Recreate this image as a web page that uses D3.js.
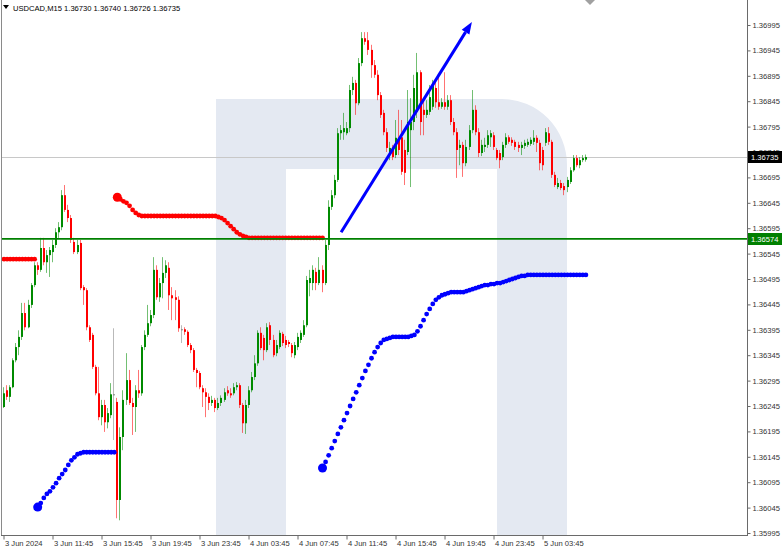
<!DOCTYPE html>
<html><head><meta charset="utf-8">
<script src="https://cdn.jsdelivr.net/npm/d3@7/dist/d3.min.js"></script>
<style>html,body{margin:0;padding:0;background:#fff;overflow:hidden;} svg{display:block;}</style>
</head><body><svg id="c" width="782" height="550"></svg>
<script>
// ---------------- DATA ----------------
const symbolTitle = "USDCAD,M15";
const lastQuote = [1.36730, 1.36740, 1.36726, 1.36735];   // O H L C of the last bar
const bidPrice = 1.36735;
const levelPrice = 1.36574;

const opens = [1.36243,1.36276,1.36263,1.36282,1.36335,1.36361,1.36381,1.36428,1.36400,1.36444,1.36483,1.36522,1.36513,1.36556,1.36528,1.36542,1.36548,1.36562,1.36587,1.36597,1.36660,1.36631,1.36615,1.36568,1.36548,1.36566,1.36479,1.36473,1.36400,1.36385,1.36322,1.36270,1.36223,1.36247,1.36213,1.36227,1.36268,1.36253,1.36060,1.36184,1.36257,1.36296,1.36251,1.36243,1.36276,1.36270,1.36361,1.36385,1.36408,1.36424,1.36513,1.36459,1.36487,1.36507,1.36517,1.36463,1.36459,1.36454,1.36396,1.36396,1.36391,1.36365,1.36355,1.36316,1.36310,1.36280,1.36272,1.36263,1.36251,1.36257,1.36241,1.36251,1.36257,1.36276,1.36270,1.36270,1.36282,1.36286,1.36247,1.36211,1.36247,1.36276,1.36302,1.36329,1.36389,1.36379,1.36355,1.36404,1.36375,1.36349,1.36361,1.36387,1.36375,1.36371,1.36365,1.36345,1.36361,1.36375,1.36385,1.36404,1.36487,1.36487,1.36509,1.36487,1.36513,1.36487,1.36562,1.36637,1.36660,1.36690,1.36782,1.36784,1.36782,1.36792,1.36867,1.36881,1.36841,1.36920,1.36969,1.36965,1.36946,1.36916,1.36897,1.36857,1.36822,1.36784,1.36739,1.36753,1.36739,1.36773,1.36774,1.36749,1.36745,1.36788,1.36804,1.36824,1.36902,1.36828,1.36818,1.36824,1.36834,1.36871,1.36843,1.36834,1.36843,1.36834,1.36847,1.36804,1.36784,1.36753,1.36759,1.36723,1.36755,1.36788,1.36828,1.36784,1.36743,1.36755,1.36759,1.36774,1.36778,1.36749,1.36743,1.36735,1.36759,1.36774,1.36769,1.36765,1.36759,1.36753,1.36757,1.36759,1.36761,1.36765,1.36773,1.36763,1.36749,1.36763,1.36782,1.36765,1.36700,1.36676,1.36684,1.36678,1.36676,1.36686,1.36709,1.36733,1.36719,1.36729,1.36730];
const highs = [1.36282,1.36286,1.36286,1.36339,1.36369,1.36394,1.36448,1.36448,1.36454,1.36487,1.36528,1.36528,1.36576,1.36576,1.36552,1.36558,1.36572,1.36595,1.36607,1.36670,1.36680,1.36641,1.36621,1.36576,1.36572,1.36572,1.36483,1.36477,1.36404,1.36389,1.36326,1.36322,1.36257,1.36257,1.36241,1.36290,1.36398,1.36261,1.36203,1.36276,1.36349,1.36316,1.36261,1.36286,1.36316,1.36365,1.36394,1.36444,1.36434,1.36538,1.36522,1.36497,1.36538,1.36532,1.36528,1.36479,1.36473,1.36461,1.36404,1.36400,1.36394,1.36369,1.36359,1.36320,1.36314,1.36286,1.36280,1.36270,1.36265,1.36261,1.36261,1.36266,1.36280,1.36284,1.36280,1.36290,1.36292,1.36290,1.36251,1.36257,1.36284,1.36312,1.36345,1.36394,1.36400,1.36385,1.36408,1.36410,1.36385,1.36375,1.36394,1.36391,1.36383,1.36375,1.36369,1.36371,1.36389,1.36394,1.36414,1.36501,1.36513,1.36522,1.36517,1.36538,1.36522,1.36572,1.36650,1.36670,1.36700,1.36792,1.36798,1.36822,1.36804,1.36877,1.36893,1.36887,1.36930,1.36981,1.36981,1.36981,1.36956,1.36926,1.36906,1.36863,1.36828,1.36792,1.36765,1.36759,1.36808,1.36828,1.36808,1.36769,1.36867,1.36851,1.36897,1.36940,1.36906,1.36847,1.36847,1.36877,1.36887,1.36883,1.36897,1.36851,1.36902,1.36857,1.36857,1.36812,1.36792,1.36769,1.36765,1.36769,1.36798,1.36867,1.36837,1.36792,1.36769,1.36773,1.36788,1.36788,1.36784,1.36753,1.36749,1.36765,1.36782,1.36778,1.36774,1.36769,1.36765,1.36765,1.36769,1.36771,1.36774,1.36788,1.36778,1.36769,1.36755,1.36792,1.36794,1.36769,1.36706,1.36694,1.36690,1.36684,1.36696,1.36715,1.36739,1.36739,1.36735,1.36739,1.36740];
const lows = [1.36241,1.36257,1.36253,1.36280,1.36331,1.36345,1.36375,1.36394,1.36398,1.36438,1.36479,1.36503,1.36509,1.36522,1.36507,1.36499,1.36528,1.36556,1.36576,1.36591,1.36627,1.36607,1.36566,1.36544,1.36544,1.36473,1.36444,1.36394,1.36371,1.36318,1.36266,1.36217,1.36207,1.36194,1.36201,1.36221,1.36178,1.36024,1.36020,1.36158,1.36247,1.36247,1.36188,1.36194,1.36261,1.36265,1.36355,1.36381,1.36402,1.36418,1.36454,1.36450,1.36457,1.36497,1.36434,1.36414,1.36414,1.36391,1.36369,1.36385,1.36361,1.36349,1.36312,1.36282,1.36278,1.36243,1.36223,1.36237,1.36245,1.36233,1.36237,1.36245,1.36253,1.36265,1.36261,1.36266,1.36276,1.36241,1.36192,1.36190,1.36241,1.36272,1.36296,1.36324,1.36355,1.36335,1.36351,1.36365,1.36341,1.36343,1.36357,1.36363,1.36359,1.36361,1.36341,1.36339,1.36355,1.36369,1.36381,1.36400,1.36461,1.36473,1.36473,1.36483,1.36469,1.36483,1.36552,1.36631,1.36654,1.36686,1.36769,1.36769,1.36778,1.36784,1.36857,1.36818,1.36837,1.36914,1.36956,1.36936,1.36891,1.36891,1.36847,1.36812,1.36778,1.36745,1.36729,1.36729,1.36733,1.36739,1.36700,1.36680,1.36739,1.36676,1.36788,1.36812,1.36778,1.36778,1.36812,1.36818,1.36828,1.36832,1.36828,1.36830,1.36828,1.36828,1.36798,1.36778,1.36694,1.36719,1.36696,1.36717,1.36749,1.36782,1.36778,1.36735,1.36737,1.36745,1.36753,1.36755,1.36749,1.36729,1.36713,1.36729,1.36753,1.36761,1.36757,1.36749,1.36745,1.36739,1.36751,1.36755,1.36757,1.36759,1.36745,1.36709,1.36709,1.36757,1.36759,1.36694,1.36676,1.36672,1.36670,1.36660,1.36666,1.36682,1.36706,1.36715,1.36713,1.36725,1.36726];
const closes = [1.36270,1.36263,1.36282,1.36335,1.36361,1.36381,1.36428,1.36400,1.36444,1.36483,1.36522,1.36513,1.36556,1.36528,1.36542,1.36552,1.36562,1.36587,1.36597,1.36660,1.36631,1.36615,1.36572,1.36548,1.36562,1.36477,1.36473,1.36400,1.36375,1.36322,1.36270,1.36223,1.36247,1.36213,1.36231,1.36268,1.36268,1.36060,1.36184,1.36257,1.36296,1.36251,1.36243,1.36276,1.36270,1.36361,1.36385,1.36408,1.36424,1.36513,1.36459,1.36487,1.36507,1.36522,1.36463,1.36457,1.36454,1.36398,1.36396,1.36391,1.36365,1.36355,1.36316,1.36310,1.36282,1.36272,1.36263,1.36251,1.36257,1.36241,1.36251,1.36261,1.36272,1.36270,1.36266,1.36282,1.36286,1.36247,1.36211,1.36247,1.36276,1.36302,1.36329,1.36389,1.36359,1.36355,1.36400,1.36375,1.36345,1.36365,1.36389,1.36369,1.36365,1.36367,1.36349,1.36365,1.36381,1.36389,1.36404,1.36493,1.36497,1.36513,1.36487,1.36513,1.36487,1.36562,1.36637,1.36660,1.36690,1.36782,1.36788,1.36792,1.36792,1.36867,1.36881,1.36841,1.36920,1.36969,1.36962,1.36946,1.36916,1.36897,1.36857,1.36818,1.36784,1.36753,1.36753,1.36735,1.36773,1.36749,1.36706,1.36704,1.36804,1.36804,1.36871,1.36902,1.36804,1.36818,1.36828,1.36853,1.36877,1.36843,1.36834,1.36843,1.36834,1.36847,1.36804,1.36784,1.36749,1.36759,1.36723,1.36755,1.36788,1.36828,1.36784,1.36743,1.36759,1.36759,1.36778,1.36782,1.36755,1.36733,1.36729,1.36759,1.36774,1.36765,1.36763,1.36755,1.36753,1.36759,1.36763,1.36765,1.36769,1.36773,1.36763,1.36723,1.36719,1.36784,1.36765,1.36700,1.36680,1.36684,1.36674,1.36670,1.36690,1.36709,1.36733,1.36719,1.36729,1.36733,1.36735];

// indicator dots (upper = red, lower = blue), each segment: first bar index + values
const redStart1 = 0;
const red1 = [1.36534,1.36534,1.36534,1.36534,1.36534,1.36534,1.36534,1.36534,1.36534,1.36534,1.36534];
const redStart2 = 37;
const red2 = [1.36656,1.36652,1.36648,1.36645,1.36639,1.36631,1.36625,1.36621,
  1.36619,1.36619,1.36619,1.36619,1.36619,1.36619,1.36619,1.36619,1.36619,1.36619,1.36619,1.36619,1.36619,1.36619,1.36619,1.36619,1.36619,1.36619,1.36619,1.36619,1.36619,1.36619,1.36619,1.36619,1.36619,
  1.36617,1.36615,1.36611,1.36605,1.36599,1.36593,1.36587,1.36583,1.36580,1.36578,
  1.36576,1.36576,1.36576,1.36576,1.36576,1.36576,1.36576,1.36576,1.36576,1.36576,1.36576,1.36576,1.36576,1.36576,1.36576,1.36576,1.36576,1.36576,1.36576,1.36576,1.36576,1.36576,1.36576,1.36576,1.36576];
const blueStart1 = 11;
const blue1 = [1.36046,1.36054,1.36064,1.36072,1.36077,1.36085,1.36093,1.36103,1.36111,1.36119,1.36129,1.36138,1.36144,1.36150,1.36152,
  1.36154,1.36154,1.36154,1.36154,1.36154,1.36154,1.36154,1.36154,1.36154,1.36154,1.36154];
const blueStart2 = 104;
const blue2 = [1.36123,1.36135,1.36148,1.36162,1.36176,1.36190,1.36203,1.36217,1.36231,1.36245,1.36259,1.36272,1.36286,1.36300,1.36314,1.36326,1.36339,1.36351,1.36361,1.36369,1.36375,1.36377,1.36379,
  1.36381,1.36381,1.36381,1.36381,1.36381,1.36381,
  1.36383,1.36385,1.36392,1.36402,1.36414,1.36426,1.36436,1.36446,1.36454,1.36459,1.36463,1.36465,1.36467,
  1.36469,1.36469,1.36469,1.36469,1.36469,
  1.36471,1.36473,1.36475,1.36477,1.36479,1.36481,1.36483,1.36483,1.36485,1.36485,1.36487,1.36487,1.36489,1.36491,1.36493,1.36495,1.36497,1.36499,1.36501,1.36501,
  1.36503,1.36503,1.36503,1.36503,1.36503,1.36503,1.36503,1.36503,1.36503,1.36503,1.36503,1.36503,1.36503,1.36503,1.36503,1.36503,1.36503,1.36503,1.36503,1.36503];

// trend arrow drawn on chart (bar index, price)
const arrowFrom = [110.4, 1.36587];
const arrowTo = [153.1, 1.37001];

// axis ticks
const priceTicks = [1.35995,1.36045,1.36095,1.36145,1.36195,1.36245,1.36295,1.36345,1.36395,1.36445,1.36495,1.36545,1.36595,1.36645,1.36695,1.36745,1.36795,1.36845,1.36895,1.36945,1.36995];
const timeTickBars = [0,16,32,48,64,80,96,112,128,144,160,176];
const timeTickLabels = ["3 Jun 2024","3 Jun 11:45","3 Jun 15:45","3 Jun 19:45","3 Jun 23:45","4 Jun 03:45","4 Jun 07:45","4 Jun 11:45","4 Jun 15:45","4 Jun 19:45","4 Jun 23:45","5 Jun 03:45"];

// ---------------- DRAW ----------------
const svg = d3.select('#c');
const frameL = 2, frameR = 747, frameB = 535;
const font = "'Liberation Sans', Arial, sans-serif";
const x = d3.scaleLinear().domain([0, 190]).range([3, 584.9]);
const y = d3.scaleLinear().domain([1.35995, 1.36995]).range([533, 25]);
const green = "#008a00", red = "#ff0000";

svg.append('rect').attr('width', 782).attr('height', 550).attr('fill', '#fff');

// watermark logo
svg.append('path')
  .attr('d', 'M216,99 L502,99 A65,66 0 0 1 567,165 L567,535 L497,535 L497,169 L286,169 L286,535 L216,535 Z')
  .attr('fill', '#e4e9f2');

const plot = svg.append('g');

// bid line
plot.append('line').attr('x1', frameL).attr('x2', frameR)
  .attr('y1', Math.round(y(bidPrice)) + 0.5).attr('y2', Math.round(y(bidPrice)) + 0.5)
  .attr('stroke', '#c8c8c8').attr('stroke-width', 1);

// candles
const bars = d3.range(opens.length).map(i => ({i, o: opens[i], h: highs[i], l: lows[i], c: closes[i]}));
const colorOf = d => d.c > d.o ? green : (d.c < d.o ? red : '#808080');
const cg = plot.append('g');
cg.selectAll('line.wick').data(bars).join('line')
  .attr('class', 'wick')
  .attr('x1', d => Math.round(x(d.i)) + 0.5).attr('x2', d => Math.round(x(d.i)) + 0.5)
  .attr('y1', d => y(Math.max(d.h, d.o, d.c))).attr('y2', d => y(Math.min(d.l, d.o, d.c)))
  .attr('stroke', colorOf).attr('stroke-width', 1).attr('stroke-opacity', 0.55);
cg.selectAll('rect.body').data(bars).join('rect')
  .attr('class', 'body')
  .attr('x', d => Math.round(x(d.i)))
  .attr('width', 2)
  .attr('y', d => y(Math.max(d.o, d.c)))
  .attr('height', d => Math.max(1, Math.abs(y(d.o) - y(d.c))))
  .attr('fill', colorOf);

// indicator dots (a segment that begins inside the chart starts with a bigger dot)
function dots(start, vals, col, bigFirst) {
  const g = plot.append('g');
  g.selectAll('circle').data(vals.map((v, k) => ({i: start + k, v, k}))).join('circle')
    .attr('cx', d => x(d.i) + 1).attr('cy', d => y(d.v))
    .attr('r', d => (bigFirst && d.k === 0) ? 4.5 : 2.4).attr('fill', col);
}
dots(redStart1, red1, '#ff0000', false);
dots(redStart2, red2, '#ff0000', true);
dots(blueStart1, blue1, '#0000ff', true);
dots(blueStart2, blue2, '#0000ff', true);

// level line
plot.append('line').attr('x1', frameL).attr('x2', frameR)
  .attr('y1', y(levelPrice)).attr('y2', y(levelPrice))
  .attr('stroke', '#008000').attr('stroke-width', 1.6);

// trend arrow
const ax1 = x(arrowFrom[0]), ay1 = y(arrowFrom[1]), ax2 = x(arrowTo[0]), ay2 = y(arrowTo[1]);
const ang = Math.atan2(ay2 - ay1, ax2 - ax1);
const hl = 12, hw = 4.5;
const bx = ax2 - hl * Math.cos(ang), by = ay2 - hl * Math.sin(ang);
plot.append('line').attr('x1', ax1).attr('y1', ay1).attr('x2', bx).attr('y2', by)
  .attr('stroke', '#0000ff').attr('stroke-width', 3);
plot.append('path')
  .attr('d', `M${ax2},${ay2} L${bx + hw * Math.sin(ang)},${by - hw * Math.cos(ang)} L${bx - hw * Math.sin(ang)},${by + hw * Math.cos(ang)} Z`)
  .attr('fill', '#0000ff');

// frame
svg.append('line').attr('x1', frameL - 0.5).attr('x2', frameL - 0.5).attr('y1', 0).attr('y2', frameB).attr('stroke', '#8a8a8a');
svg.append('line').attr('x1', frameL - 1).attr('x2', frameR + 0.5).attr('y1', frameB + 0.5).attr('y2', frameB + 0.5).attr('stroke', '#6a6a6a');
svg.append('line').attr('x1', frameR + 0.5).attr('x2', frameR + 0.5).attr('y1', 0).attr('y2', frameB + 1).attr('stroke', '#6a6a6a');

// right price axis
const yAxis = svg.append('g').attr('transform', `translate(${frameR + 0.5},0)`)
  .call(d3.axisRight(y).tickValues(priceTicks).tickSize(3).tickPadding(2).tickFormat(d3.format('.5f')));
yAxis.select('.domain').remove();
yAxis.selectAll('line').attr('stroke', '#6a6a6a');
yAxis.selectAll('text').attr('font-family', font).attr('font-size', '7.6px').attr('fill', '#333');

// bottom time axis
const xAxis = svg.append('g').attr('transform', `translate(0.5,${frameB + 0.5})`)
  .call(d3.axisBottom(x).tickValues(timeTickBars).tickSize(4).tickFormat((d, i) => timeTickLabels[i]));
xAxis.select('.domain').remove();
xAxis.selectAll('line').attr('stroke', '#6a6a6a');
xAxis.selectAll('text').attr('font-family', font).attr('font-size', '7.6px').attr('fill', '#333')
  .attr('text-anchor', 'start').attr('dx', 1).attr('dy', '0.5em');

// price labels on axis
function priceTag(p, bg) {
  const g = svg.append('g');
  const yy = Math.round(y(p));
  g.append('rect').attr('x', frameR + 1).attr('y', yy - 6).attr('width', 782 - frameR - 1).attr('height', 12).attr('fill', bg);
  g.append('text').attr('x', frameR + 4).attr('y', yy).attr('dy', '0.35em')
    .attr('font-family', font).attr('font-size', '7.6px').attr('fill', '#fff').text(d3.format('.5f')(p));
}
priceTag(bidPrice, '#000');
priceTag(levelPrice, '#008000');

// header
svg.append('path').attr('d', 'M3,5 L9,5 L6,9 Z').attr('fill', '#000');
svg.append('text').attr('x', 13).attr('y', 11).attr('font-family', font).attr('font-size', '7.6px').attr('fill', '#000')
  .text(symbolTitle + '  ' + lastQuote.map(d3.format('.5f')).join(' '));

// chart shift marker
svg.append('path').attr('d', 'M585,0 L595,0 L590,5 Z').attr('fill', '#a0a0a0');
</script>
</body></html>
